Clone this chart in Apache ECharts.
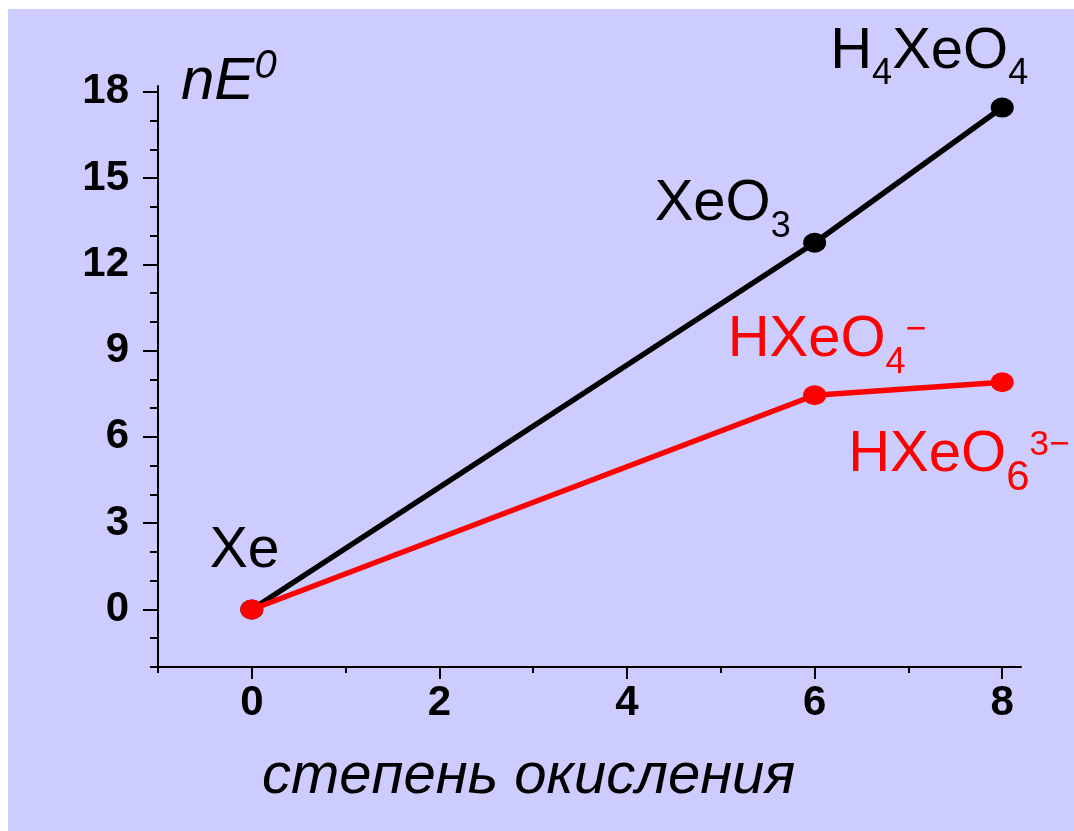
<!DOCTYPE html>
<html>
<head>
<meta charset="utf-8">
<script src="https://cdn.jsdelivr.net/npm/echarts@6/dist/echarts.min.js"></script>
<style>
  html, body { margin: 0; padding: 0; background: #fff; }
  #chart { width: 1074px; height: 831px; }
</style>
</head>
<body>
<div id="chart"></div>
<script>
// oxidation states and nE0 values (Xe -> XeO3 -> H4XeO4, Xe -> HXeO4- -> HXeO6 3-)
var oxStates = [0, 6, 8];
var acidE = [0, 12.75, 17.45];
var baseE = [0, 7.45, 7.9];
var xMajor = [0, 2, 4, 6, 8];
var xMinor = [-1, 1, 3, 5, 7];
var yMajor = [0, 3, 6, 9, 12, 15, 18];
var yMinor = [-2, -1, 1, 2, 4, 5, 7, 8, 10, 11, 13, 14, 16, 17];

var fam = '"Liberation Sans", Arial, sans-serif';
var chartDom = document.getElementById('chart');
var myChart = echarts.init(chartDom);

function pairs(xs, ys) {
  var out = [];
  for (var i = 0; i < xs.length; i++) {
    out.push([xs[i], ys[i]]);
  }
  return out;
}

var tickStyle = { color: '#000', width: 2 };

var option = {
  backgroundColor: '#fff',
  animation: false,
  grid: { left: 158, right: 53, top: 86, bottom: 164 },
  xAxis: [
    {
      type: 'value', min: -1, max: 8.2, position: 'bottom',
      axisLine: { onZero: false, lineStyle: tickStyle },
      axisTick: { customValues: xMajor, length: 12, lineStyle: tickStyle },
      axisLabel: { customValues: xMajor, fontSize: 42, fontWeight: 'bold', color: '#000', fontFamily: fam, margin: 15 },
      splitLine: { show: false }
    },
    {
      type: 'value', min: -1, max: 8.2, position: 'bottom',
      axisLine: { show: false, onZero: false },
      axisTick: { customValues: xMinor, length: 6, lineStyle: tickStyle },
      axisLabel: { show: false },
      splitLine: { show: false }
    }
  ],
  yAxis: [
    {
      type: 'value', min: -2, max: 18.2, position: 'left',
      axisLine: { show: true, onZero: false, lineStyle: tickStyle },
      axisTick: { show: true, customValues: yMajor, length: 15, lineStyle: tickStyle },
      axisLabel: { customValues: yMajor, fontSize: 42, fontWeight: 'bold', color: '#000', fontFamily: fam, margin: 29 },
      splitLine: { show: false }
    },
    {
      type: 'value', min: -2, max: 18.2, position: 'left',
      axisLine: { show: false, onZero: false },
      axisTick: { show: true, customValues: yMinor, length: 8, lineStyle: tickStyle },
      axisLabel: { show: false },
      splitLine: { show: false }
    }
  ],
  series: [
    {
      name: 'acid', type: 'line', xAxisIndex: 0, yAxisIndex: 0,
      data: pairs(oxStates, acidE),
      symbol: 'circle', symbolSize: [23, 20],
      lineStyle: { color: '#000', width: 5.5 },
      itemStyle: { color: '#000' },
      z: 3
    },
    {
      name: 'base', type: 'line', xAxisIndex: 0, yAxisIndex: 0,
      data: pairs(oxStates, baseE),
      symbol: 'circle', symbolSize: [23, 20],
      lineStyle: { color: '#ff0000', width: 5.5 },
      itemStyle: { color: '#ff0000' },
      z: 4
    }
  ]
};

myChart.setOption(option);

// text pieces with sub/superscripts, laid out left to right
var ctx = document.createElement('canvas').getContext('2d');
function chemText(x, baseline, parts, color, italic) {
  var els = [];
  var cx = x;
  parts.forEach(function (p) {
    var font = (italic ? 'italic ' : '') + p[1] + 'px ' + fam;
    ctx.font = font;
    els.push({
      type: 'text', x: cx, y: baseline - p[2] - 0.35 * p[1], z: 100,
      style: { text: p[0], font: font, fill: color, align: 'left', verticalAlign: 'middle' }
    });
    cx += ctx.measureText(p[0]).width;
  });
  return els;
}

function at(seriesIndex, i) {
  var src = seriesIndex === 0 ? acidE : baseE;
  return myChart.convertToPixel({ seriesIndex: seriesIndex }, [oxStates[i], src[i]]);
}

var graphics = [
  { type: 'rect', shape: { x: 8, y: 9, width: 1066, height: 822 }, style: { fill: '#ccccff' }, z: -10 }
];

var p;
p = at(0, 0);
graphics = graphics.concat(chemText(p[0] - 42, p[1] - 38, [['Xe', 57, 0]], '#000'));
p = at(0, 1);
graphics = graphics.concat(chemText(p[0] - 160, p[1] - 18, [['XeO', 58, 0], ['3', 36, -15]], '#000'));
p = at(0, 2);
graphics = graphics.concat(chemText(p[0] - 172, p[1] - 35,
  [['H', 58, 0], ['4', 36, -14], ['XeO', 58, 0], ['4', 36, -14]], '#000'));
p = at(1, 1);
graphics = graphics.concat(chemText(p[0] - 87, p[1] - 35,
  [['HXeO', 58, 0], ['4', 36, -15], ['\u2212', 36, 18]], '#ff0000'));
p = at(1, 2);
graphics = graphics.concat(chemText(p[0] - 154, p[1] + 93,
  [['HXeO', 58, 0], ['6', 42, -18], ['3\u2212', 35, 18]], '#ff0000'));

// axis titles
graphics = graphics.concat(chemText(181, 103, [['nE', 60, 0], ['0', 40, 22]], '#000', true));
graphics = graphics.concat(chemText(262, 797, [['степень окисления', 58, 0]], '#000', true));

myChart.setOption({ graphic: graphics });
</script>
</body>
</html>
